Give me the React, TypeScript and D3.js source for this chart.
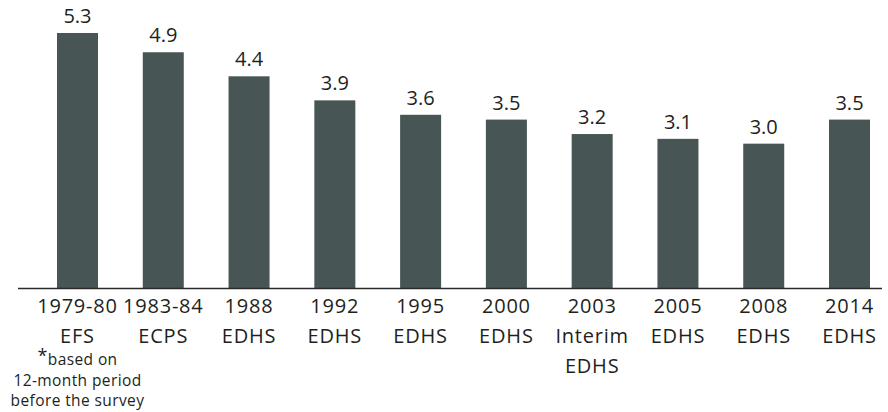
import React from 'react';
import * as d3 from 'd3';

// survey labels (one entry per line under the bar)
const surveys: string[][] = [
  ['1979-80', 'EFS'],
  ['1983-84', 'ECPS'],
  ['1988', 'EDHS'],
  ['1992', 'EDHS'],
  ['1995', 'EDHS'],
  ['2000', 'EDHS'],
  ['2003', 'Interim', 'EDHS'],
  ['2005', 'EDHS'],
  ['2008', 'EDHS'],
  ['2014', 'EDHS'],
];
const rates: number[] = [5.3, 4.9, 4.4, 3.9, 3.6, 3.5, 3.2, 3.1, 3.0, 3.5];
const footnote: string[] = ['based on', '12-month period', 'before the survey'];

const W = 888;
const H = 412;
const baseY = 288;
const barColor = '#475654';
const textColor = '#231f20';
const font = "'Open Sans', sans-serif";

export default function App() {
  const keys = surveys.map((s) => s.join(' '));

  const x = d3
    .scaleBand<string>()
    .domain(keys)
    .range([36.4, 890.6])
    .paddingInner(0.522)
    .paddingOuter(0.24);

  const y = d3
    .scaleLinear()
    .domain([0, d3.max(rates) as number])
    .range([baseY, 33]);

  const bw = x.bandwidth();
  const cx0 = (x(keys[0]) as number) + bw / 2;

  return (
    <svg
      width={W}
      height={H}
      style={{ position: 'absolute', left: 0, top: 0, background: '#fff' }}
    >
      {rates.map((v, i) => {
        const k = keys[i];
        const x0 = x(k) as number;
        return (
          <g key={k}>
            <rect x={x0} y={y(v)} width={bw} height={baseY - y(v)} fill={barColor} />
            <text
              x={x0 + bw / 2}
              y={y(v) - 10}
              textAnchor="middle"
              fontFamily={font}
              fontSize={20}
              fill={textColor}
            >
              {d3.format('.1f')(v)}
            </text>
            <text
              x={x0 + bw / 2}
              y={313}
              textAnchor="middle"
              fontFamily={font}
              fontSize={20}
              letterSpacing={0.8}
              fill={textColor}
            >
              {surveys[i].map((line, j) => (
                <tspan key={j} x={x0 + bw / 2} dy={j === 0 ? 0 : 30}>
                  {line}
                </tspan>
              ))}
            </text>
          </g>
        );
      })}

      <line x1={18} x2={882} y1={baseY + 0.5} y2={baseY + 0.5} stroke="#2b2b2b" strokeWidth={1.4} />

      {footnote.map((line, j) => (
        <text
          key={j}
          x={cx0}
          y={365 + j * 20.5}
          textAnchor="middle"
          fontFamily={font}
          fontSize={15.5}
          letterSpacing={0.4}
          fill={textColor}
        >
          {j === 0 ? (
            <>
              <tspan fontSize={18} dy={-3}>*</tspan>
              <tspan dy={3}>{line}</tspan>
            </>
          ) : (
            line
          )}
        </text>
      ))}
    </svg>
  );
}
